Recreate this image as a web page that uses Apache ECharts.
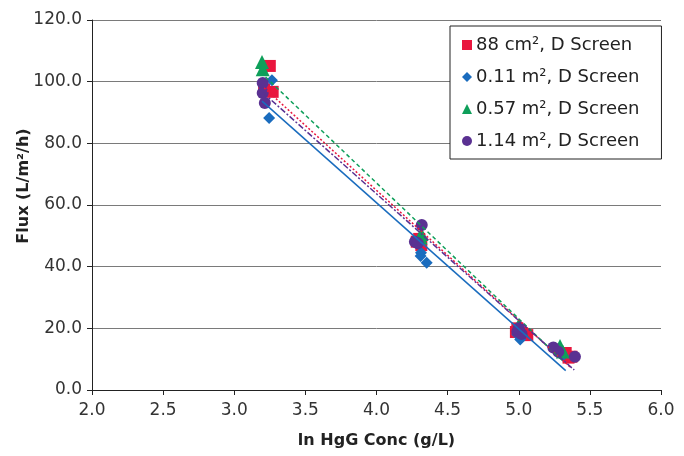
<!DOCTYPE html>
<html>
<head>
<meta charset="utf-8">
<script src="https://cdn.jsdelivr.net/npm/echarts@6/dist/echarts.min.js"></script>
<style>
  html, body { margin: 0; padding: 0; background: #fff; }
  #chart { width: 684px; height: 456px; }
</style>
</head>
<body>
<div id="chart"></div>
<script>
// Series names (legend order)
const seriesNames = ['88 cm\u00b2, D Screen', '0.11 m\u00b2, D Screen', '0.57 m\u00b2, D Screen', '1.14 m\u00b2, D Screen'];

// ln HgG concentration (x) and flux (y) for each membrane area
const redX = [3.25, 3.27, 3.21, 4.283, 4.30, 4.315, 4.99, 5.02, 5.06, 4.98, 5.33, 5.35, 5.37];
const redY = [105.1, 96.7, 97.5, 48.1, 49.0, 47.0, 20.0, 18.5, 17.8, 18.8, 12.0, 10.5, 10.8];

const blueX = [3.265, 3.245, 4.313, 4.31, 4.353, 4.99, 5.01, 5.30, 5.31];
const blueY = [100.5, 88.2, 44.5, 43.5, 41.3, 18.0, 16.4, 12.0, 11.2];

const greenX = [3.195, 3.20, 4.315, 4.31, 5.00, 5.02, 5.29, 5.31];
const greenY = [106.4, 104.0, 50.6, 49.5, 21.0, 19.5, 14.3, 12.5];

const purpleX = [3.20, 3.20, 3.215, 4.318, 4.27, 4.29, 4.99, 5.02, 5.00, 5.243, 5.278, 5.395];
const purpleY = [99.6, 96.3, 93.1, 53.5, 48.1, 47.6, 18.9, 18.2, 20.0, 13.8, 12.4, 10.8];

// Linear trendline end points [x0, y0, x1, y1] for each series
const redTrend = [3.21, 98.0, 5.36, 7.5];
const blueTrend = [3.195, 93.7, 5.33, 6.3];
const greenTrend = [3.22, 101.5, 5.32, 9.0];
const purpleTrend = [3.20, 96.5, 5.39, 6.5];

// Axis ticks
const xTicks = [2.0, 2.5, 3.0, 3.5, 4.0, 4.5, 5.0, 5.5, 6.0];
const yTicks = [0, 20, 40, 60, 80, 100, 120];

const colors = { red: '#E9163E', blue: '#1A6CBE', green: '#0E9F5A', purple: '#5A3192' };

function pairs(xs, ys) { return xs.map((x, i) => [x, ys[i]]); }
function trend(t) { return [[t[0], t[1]], [t[2], t[3]]]; }

const font = 'DejaVu Sans, Verdana, sans-serif';

const chart = echarts.init(document.getElementById('chart'), null, { renderer: 'canvas' });

function scatter(name, data, symbol, size, color) {
  return {
    name: name, type: 'scatter', data: data, symbol: symbol, symbolSize: size,
    itemStyle: { color: color, opacity: 1 }, z: 2, animation: false
  };
}
function trendLine(data, color, dash, width) {
  return {
    type: 'line', data: data, showSymbol: false, symbol: 'none', silent: true,
    lineStyle: { color: color, width: width, type: dash }, z: 3, animation: false
  };
}

chart.setOption({
  animation: false,
  backgroundColor: '#fff',
  grid: { left: 92, right: 23, top: 20, bottom: 66 },
  xAxis: {
    type: 'value', min: xTicks[0], max: xTicks[xTicks.length - 1], interval: 0.5,
    name: 'ln HgG Conc (g/L)', nameLocation: 'middle', nameGap: 43, nameMoveOverlap: false,
    nameTextStyle: { fontFamily: font, fontWeight: 'bold', fontSize: 16, color: '#222' },
    axisLine: { lineStyle: { color: '#222', width: 1 } },
    axisTick: { show: true, inside: false, length: 5, lineStyle: { color: '#222' } },
    axisLabel: { fontFamily: font, fontSize: 17, color: '#333', margin: 12, formatter: v => v.toFixed(1) },
    splitLine: { show: false }
  },
  yAxis: {
    type: 'value', min: yTicks[0], max: yTicks[yTicks.length - 1], interval: 20,
    name: 'Flux (L/m\u00b2/h)', nameLocation: 'middle', nameGap: 60, nameMoveOverlap: false,
    nameTextStyle: { fontFamily: font, fontWeight: 'bold', fontSize: 16, color: '#222', padding: [0, 0, 0, 38] },
    axisLine: { show: true, lineStyle: { color: '#222', width: 1 } },
    axisTick: { show: true, inside: false, length: 5, lineStyle: { color: '#222' } },
    axisLabel: { fontFamily: font, fontSize: 17, color: '#333', margin: 10, formatter: v => v.toFixed(1) },
    splitLine: { show: true, lineStyle: { color: '#7a7a7a', width: 1 } }
  },
  legend: {
    data: [
      { name: seriesNames[0], icon: 'rect' },
      { name: seriesNames[1], icon: 'diamond' },
      { name: seriesNames[2], icon: 'triangle' },
      { name: seriesNames[3], icon: 'circle' }
    ],
    orient: 'vertical', left: 450, top: 26,
    backgroundColor: '#fff', borderColor: '#222', borderWidth: 1,
    padding: [10, 22, 9, 12], itemGap: 14, itemWidth: 10, itemHeight: 10,
    textStyle: { fontFamily: font, fontSize: 18, color: '#222', padding: [0, 0, 0, -1] }
  },
  series: [
    scatter(seriesNames[0], pairs(redX, redY), 'rect', 12, colors.red),
    scatter(seriesNames[1], pairs(blueX, blueY), 'diamond', 12, colors.blue),
    scatter(seriesNames[2], pairs(greenX, greenY), 'triangle', 14, colors.green),
    scatter(seriesNames[3], pairs(purpleX, purpleY), 'circle', 12, colors.purple),
    trendLine(trend(redTrend), colors.red, [2, 2], 1.5),
    trendLine(trend(blueTrend), colors.blue, 'solid', 1.5),
    trendLine(trend(greenTrend), colors.green, [4, 3], 1.5),
    trendLine(trend(purpleTrend), colors.purple, [6, 2, 2, 2], 1.5)
  ]
});
</script>
</body>
</html>
